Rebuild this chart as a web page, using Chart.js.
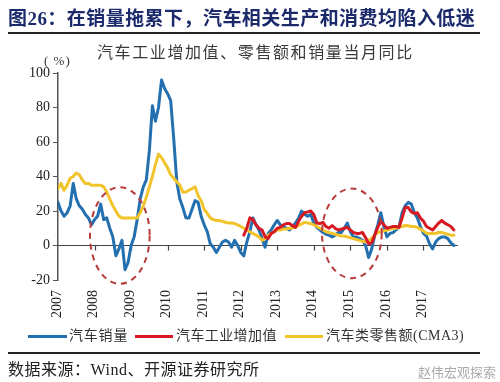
<!DOCTYPE html>
<html><head><meta charset="utf-8">
<script src="https://cdn.jsdelivr.net/npm/chart.js@4"></script>
<style>
html,body{margin:0;padding:0;background:#fff;}
body{width:500px;height:382px;position:relative;overflow:hidden;font-family:"Liberation Serif","Noto Sans CJK SC",serif;}
.abs{position:absolute;white-space:nowrap;}
#c{position:absolute;left:0;top:0;}
.lg-line{position:absolute;height:3px;}
</style></head><body>
<canvas id="c" width="500" height="382"></canvas>
<div class="abs" style="left:8px;top:9px;font-size:19px;line-height:19px;font-weight:bold;color:#1b2a6b;letter-spacing:0.45px;">图26：在销量拖累下，汽车相关生产和消费均陷入低迷</div>
<div class="abs" style="left:8px;top:32px;width:472px;height:2px;background:#222;"></div>
<div class="abs" style="left:97px;top:45px;font-size:16px;line-height:16px;letter-spacing:1.6px;color:#3a3a3a;">汽车工业增加值、零售额和销量当月同比</div>
<div class="abs" style="left:44px;top:54px;font-size:13px;line-height:13px;letter-spacing:1px;color:#333;">( %)</div>
<div id="legend"></div>
<div class="abs" style="left:8px;top:352px;width:472px;height:2px;background:#222;"></div>
<div class="abs" style="left:8px;top:362px;font-size:16px;line-height:16px;letter-spacing:0.5px;color:#222;">数据来源：Wind、开源证券研究所</div>
<div class="abs" style="left:418px;top:366px;font-size:13px;line-height:13px;color:#aaa;">赵伟宏观探索</div>
<script>
// ---- data (monthly, index 0 = Jan 2007) ----
const yearLabels = ['2007','2008','2009','2010','2011','2012','2013','2014','2015','2016','2017'];
const seriesNames = ['汽车销量','汽车工业增加值','汽车类零售额(CMA3)'];
const salesYoY = [
 25,20,17,19,23,36,27,23,21,18,
 16,12,15,17,24,15,16,10,5,-6,
 -2,3,-14,-10,0,5,15,27,34,38,
 55,81,72,80,96,91,88,84,62,37,
 27,22,16,16,21,26,25,17,12,8,
 1,-1,-4,-1,2,3,2,-1,3,0,
 -4,-6,2,8,16,12,9,4,-1,7,
 9,12,14.5,12,11,10,9,11,13,16,
 20,18,17,18,13,10.5,9,7.5,6.5,6,
 5,6,7.5,7.5,10,13,8,5,5,4,
 3,0,-7,-2,6,12,19,11,5,7,
 7.5,9,11,19,23,25,24,19,16,11,
 7,5.5,1,-2,2,4,5,5,4,1.5,0
];
const ivaStartMonth = 61;
const ivaYoY = [
 6,10,16,15,12,10,9,5,4,
 7,8,10,10.5,12,12.7,12.7,11.5,10.5,14,
 17,19,19.5,20,18,13,12.7,13.4,11,10,
 11.6,10,9,9.5,10,10.5,9,7.5,7,7,
 7.5,4.5,1,1.5,6,10.5,14,12,10,10.5,
 11,11,10.5,16,22,22,19.5,18.6,19,16,
 14,11,10,9,11,13,14.5,13,12,11,9
];
const retailCMA3 = [
 33,36,32,35,39,40,42,41,38,36,
 36,35,35,35,35,34,31,27,23,20,
 17,16,16,16,16,16,16,19,23,28,
 34,40,47,53,51,48,45,41,39,37,
 35,31,31,32,33,34,29,26,21,18.6,
 16,15,14.5,14.5,14,13.5,13,13,12.7,12,
 11,10,9,8,7,6,5,3,4,6,
 7,8,9,9,9.5,9.5,10,10,11,11.6,
 12.5,13.4,13,12.7,12,11,10,9,8,7.5,
 7,6.5,6,5.5,5.5,5,4.5,4,3.5,3,
 2.5,2,3,4,6,7.5,8,8.5,9,9.5,
 10,10,10.5,11,11.6,11.5,11,11,10.5,9.5,
 8.5,7,7,7,7,7.5,7.5,7,6.5,6,6
];
// highlighted periods (data coordinates: month index, value)
const highlights = [
  {month:20.3, value:5.8, halfMonths:9.8, halfValue:28},
  {month:96.5, value:7, halfMonths:9.8, halfValue:26}
];

const colors = ['#2370b0','#d71a22','#f2c42c'];

// legend (HTML)
(function(){
  const lg = document.getElementById('legend');
  const pos = [[28,39,69,0.8],[135,38,176,0.4],[285,38,326,0.5]];
  seriesNames.forEach((n,i)=>{
    const l = document.createElement('div');
    l.className='lg-line';
    l.style.cssText=`left:${pos[i][0]}px;top:335px;width:${pos[i][1]}px;background:${colors[i]};`;
    lg.appendChild(l);
    const t = document.createElement('div');
    t.className='abs';
    t.style.cssText=`left:${pos[i][2]}px;top:329px;font-size:14px;line-height:14px;letter-spacing:${pos[i][3]}px;color:#333;`;
    t.textContent=n;
    lg.appendChild(t);
  });
})();

const toXY = (arr, start=0) => arr.map((v,i)=>({x:start+i, y:v}));

const axisPlugin = {
  id:'axisDeco',
  beforeDatasetsDraw(chart){
    const {ctx, scales:{x,y}, chartArea} = chart;
    const y0 = y.getPixelForValue(0);
    ctx.save();
    ctx.strokeStyle='#444';
    ctx.lineWidth=1.2;
    ctx.beginPath();
    ctx.moveTo(chartArea.left, y0);
    ctx.lineTo(chartArea.right-2, y0);
    yearLabels.forEach((lab,i)=>{
      if(i===0) return;
      const px = Math.round(x.getPixelForValue(i*12))+0.5;
      ctx.moveTo(px, y0);
      ctx.lineTo(px, y0+5);
    });
    ctx.stroke();
    // rotated year labels
    ctx.fillStyle='#222';
    ctx.font="14px 'Liberation Serif'";
    ctx.textAlign='right';
    ctx.textBaseline='middle';
    yearLabels.forEach((lab,i)=>{
      const px = x.getPixelForValue(i*12)-1;
      ctx.save();
      ctx.translate(px, chartArea.bottom+10);
      ctx.rotate(-Math.PI/2);
      ctx.fillText(lab,0,0);
      ctx.restore();
    });
    ctx.restore();
  },
  afterDatasetsDraw(chart){
    const {ctx, scales:{x,y}} = chart;
    ctx.save();
    ctx.strokeStyle='#b83a3a';
    ctx.lineWidth=2;
    ctx.setLineDash([6,5]);
    highlights.forEach(h=>{
      const cx = x.getPixelForValue(h.month), cy = y.getPixelForValue(h.value);
      const rx = x.getPixelForValue(h.month+h.halfMonths)-cx;
      const ry = cy - y.getPixelForValue(h.value+h.halfValue);
      ctx.beginPath();
      ctx.ellipse(cx,cy,rx,ry,0,0,Math.PI*2);
      ctx.stroke();
    });
    ctx.restore();
  }
};

Chart.defaults.font.family = "'Liberation Serif','Noto Sans CJK SC',serif";
const common = {borderWidth:3, pointRadius:0, tension:0, borderJoinStyle:'round', borderCapStyle:'round'};
new Chart(document.getElementById('c'), {
  type:'line',
  data:{datasets:[
    Object.assign({label:seriesNames[0], data:toXY(salesYoY), borderColor:colors[0], order:3}, common),
    Object.assign({label:seriesNames[1], data:toXY(ivaYoY, ivaStartMonth), borderColor:colors[1], order:1}, common),
    Object.assign({label:seriesNames[2], data:toXY(retailCMA3), borderColor:colors[2], order:2}, common)
  ]},
  options:{
    responsive:false, animation:false, devicePixelRatio:1,
    layout:{padding:{top:73,right:40,bottom:102,left:0}},
    plugins:{legend:{display:false}, tooltip:{enabled:false}, title:{display:false}},
    scales:{
      x:{type:'linear', display:false, min:0, max:132},
      y:{min:-20, max:100,
         ticks:{stepSize:20, color:'#222', padding:3, font:{size:14, family:"'Liberation Serif'"}},
         grid:{drawOnChartArea:false, drawTicks:true, tickLength:5, tickColor:'#555'},
         border:{display:true, color:'#555', width:1.5},
         afterFit(s){ s.width = 58; }
      }
    }
  },
  plugins:[axisPlugin]
});
</script>
</body></html>
